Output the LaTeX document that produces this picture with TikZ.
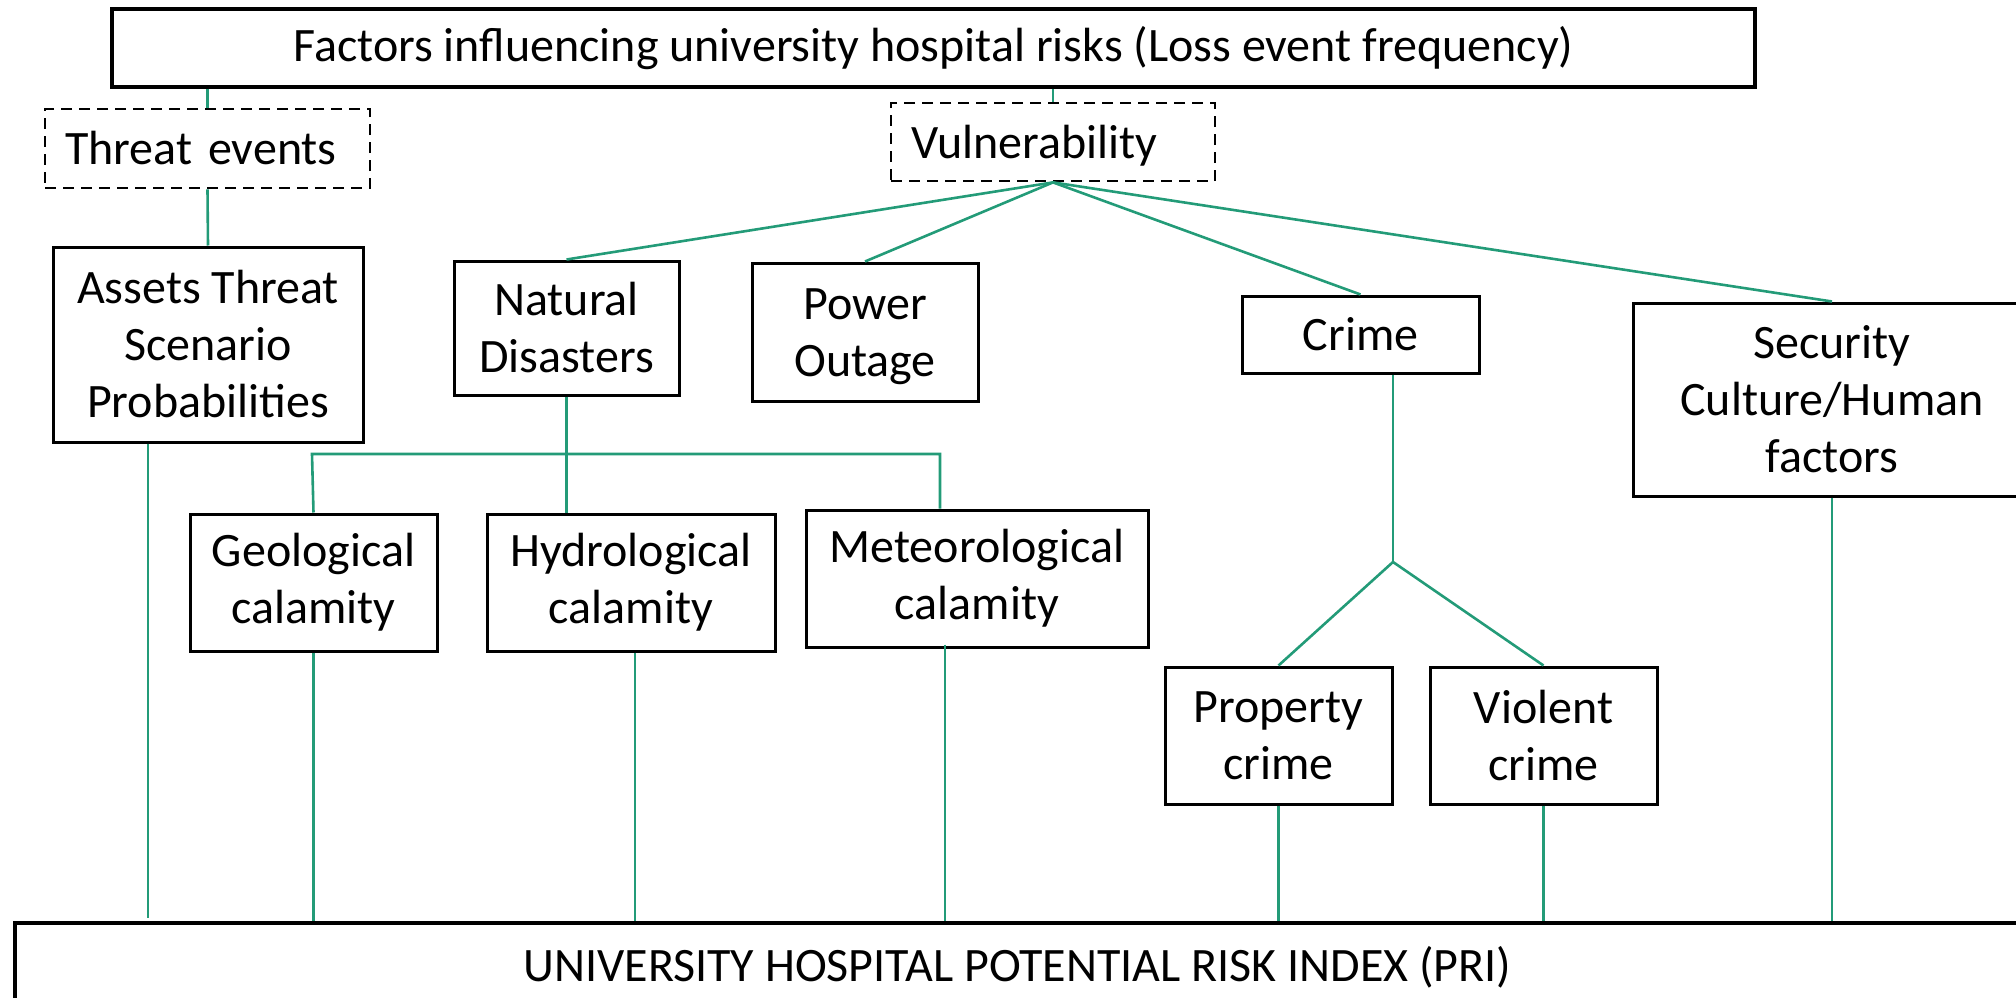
\documentclass[tikz,border=0pt]{standalone}
\usepackage{fontspec}
\setmainfont{Carlito}
\usetikzlibrary{calc}
\definecolor{linkgreen}{RGB}{35,155,120}
\begin{document}
\begin{tikzpicture}[x=1pt,y=-1pt,
  labelfont/.style={font=\fontsize{48}{57}\selectfont},
  box/.style={draw=black, line width=3pt, align=center, inner sep=0pt, labelfont},
  mainbox/.style={box, line width=4.5pt},
  dashbox/.style={draw=black, line width=2.8pt, dash pattern=on 11pt off 7pt,
    align=left, inner xsep=20pt, inner ysep=0pt, labelfont},
  link/.style={draw=linkgreen, line width=2.6pt}]
\useasboundingbox (0,0) rectangle (2016,998);

% header and index boxes
\node[mainbox, minimum width=1643pt, minimum height=78pt] (top) at (933.5,48)
  {Factors influencing university hospital risks (Loss event frequency)};
\node[mainbox, minimum width=2005pt, minimum height=89pt] (pri) at (1017.5,967.5)
  {UNIVERSITY HOSPITAL POTENTIAL RISK INDEX (PRI)};

% grouping boxes
\node[dashbox, text width=285pt, minimum height=79pt] (threat) at (207.5,148.5) {Threat events};
\node[dashbox, text width=284pt, text depth=0pt, minimum height=78pt] (vuln) at (1053,142) {Vulnerability};

% factor boxes
\node[box, minimum width=310pt, minimum height=195pt] (assets) at (208,344.5)
  {Assets Threat\\Scenario\\Probabilities};
\node[box, minimum width=225pt, minimum height=134pt] (natural) at (566.5,328)
  {Natural\\Disasters};
\node[box, minimum width=226pt, minimum height=138pt] (power) at (865,332)
  {\rule{0pt}{40pt}Power\\Outage};
\node[box, minimum width=237pt, minimum height=77pt] (crime) at (1360.5,334.5) {Crime};
\node[box, minimum width=398pt, minimum height=193pt] (security) at (1832,399.5)
  {Security\\Culture/Human\\factors};

% sub-factor boxes
\node[box, minimum width=247pt, minimum height=137pt] (geo) at (313.5,582.5)
  {Geological\\calamity};
\node[box, minimum width=288pt, minimum height=137pt] (hydro) at (631,582.5)
  {Hydrological\\calamity};
\node[box, minimum width=342pt, minimum height=137pt] (meteo) at (977,578.5)
  {Meteorological\\calamity};
\node[box, minimum width=227pt, minimum height=137pt] (property) at (1278.5,735.5)
  {Property\\crime};
\node[box, minimum width=227pt, minimum height=137pt] (violent) at (1543.5,735.5)
  {Violent\\crime};

% junction points
\coordinate (busL) at (312,454);
\coordinate (busR) at (940,454);
\coordinate (crimefork) at (1393,562);

% header to groups
\draw[link] (top.south -| threat.north) -- (threat.north);
\draw[link] (top.south -| vuln.north) -- (vuln.north);
\draw[link] (threat.south) -- (assets.north);

% vulnerability fan
\draw[link] (vuln.south) -- (natural.north);
\draw[link] (vuln.south) -- (power.north);
\draw[link] (vuln.south) -- (crime.north);
\draw[link] (vuln.south) -- (security.north);

% natural disaster bus
\draw[link] (natural.south) -- (natural.south |- hydro.north);
\draw[link] (geo.north) -- (busL) -- (busR) -- (busR |- meteo.north);

% crime fork
\draw[link] (crime.south -| crimefork) -- (crimefork);
\draw[link] (property.north) -- (crimefork) -- (violent.north);

% drops to the index
\draw[link] ([xshift=-60pt]assets.south) -- ([xshift=-60pt,yshift=3pt]assets.south |- pri.north);
\draw[link] (geo.south) -- (geo.south |- pri.north);
\draw[link] ([xshift=4pt]hydro.south) -- ([xshift=4pt]hydro.south |- pri.north);
\draw[link] ([xshift=-32pt,yshift=4pt]meteo.south) -- ([xshift=-32pt]meteo.south |- pri.north);
\draw[link] (property.south) -- (property.south |- pri.north);
\draw[link] (violent.south) -- (violent.south |- pri.north);
\draw[link] (security.south) -- (security.south |- pri.north);
\end{tikzpicture}
\end{document}
